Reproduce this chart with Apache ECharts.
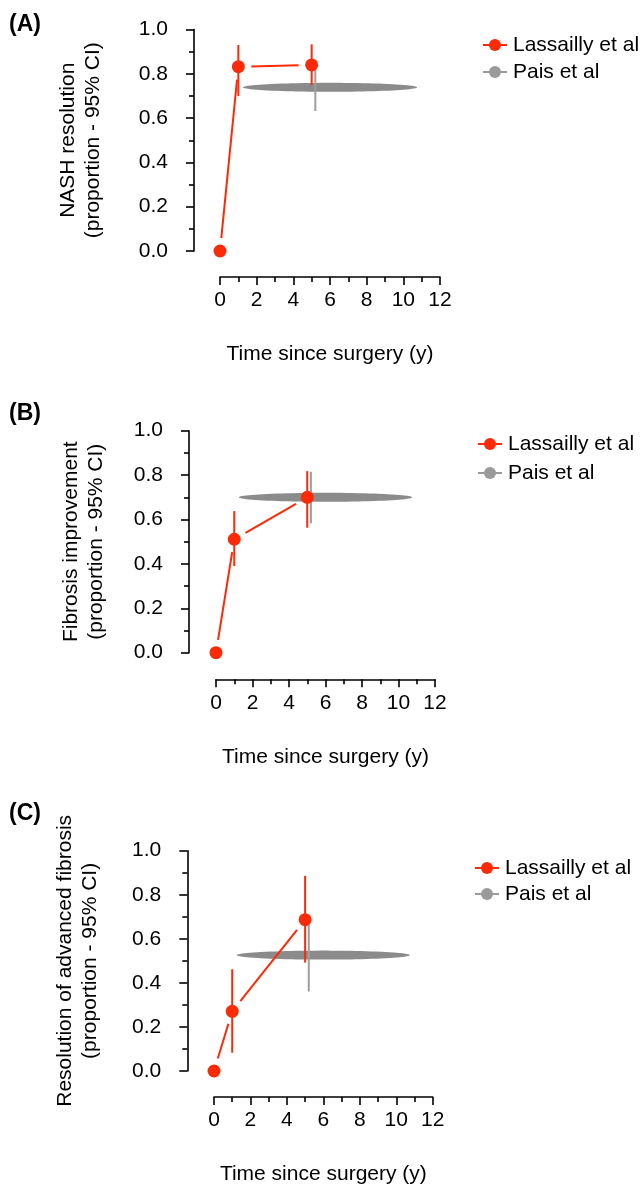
<!DOCTYPE html>
<html>
<head>
<meta charset="utf-8">
<script src="https://cdn.jsdelivr.net/npm/echarts@6/dist/echarts.min.js"></script>
<style>
html,body{margin:0;padding:0;background:#fff;}
#chart{width:643px;height:1186px;}
</style>
</head>
<body>
<div id="chart"></div>
<script>
// ---------- data ----------
const panelLabels = ['(A)', '(B)', '(C)'];
const yTitles = [
  'NASH resolution\n(proportion - 95% CI)',
  'Fibrosis improvement\n(proportion - 95% CI)',
  'Resolution of advanced fibrosis\n(proportion - 95% CI)'
];
const xTitle = 'Time since surgery (y)';
const seriesNames = ['Lassailly et al', 'Pais et al'];

// Lassailly et al: time points and proportions with 95% CI
const lassaillyTime = [0, 1, 5];
const lassaillyA = [0, 0.832, 0.840];
const lassaillyA_low = [null, 0.700, 0.750];
const lassaillyA_high = [null, 0.930, 0.933];
const lassaillyB = [0, 0.511, 0.700];
const lassaillyB_low = [null, 0.390, 0.563];
const lassaillyB_high = [null, 0.638, 0.818];
const lassaillyC = [0, 0.271, 0.687];
const lassaillyC_low = [null, 0.083, 0.492];
const lassaillyC_high = [null, 0.462, 0.886];

// Pais et al: mean time, time range, proportion with 95% CI
const paisTime = 5.2;
const paisTimeRange = [1.25, 10.75];
const paisValue = [0.739, 0.700, 0.526];
const paisLow = [0.632, 0.583, 0.361];
const paisHigh = [0.817, 0.815, 0.665];

const xMin = 0, xMax = 12, xInterval = 2;
const yMin = 0, yMax = 1, yInterval = 0.2;

// ---------- layout / style ----------
const RED = '#fb2a08';
const GRAY_FILL = '#8b8b8b';
const GRAY_LINE = '#9e9e9e';
const FONT = "'Liberation Sans', Arial, Helvetica, sans-serif";
const FS = 21;

const grids = [
  {left: 220, top: 29.5, width: 220, height: 221.5},
  {left: 216, top: 430.7, width: 219, height: 222},
  {left: 214, top: 850.7, width: 218.7, height: 221.6}
];
const yOffsets = [26, 27, 26.7];
const xOffsets = [26, 26.6, 26];
const yNameGap = [88, 80, 85];
const legendPos = [{left: 482, top: 34.5, gap: 6}, {left: 477, top: 433.5, gap: 8}, {left: 474, top: 857.5, gap: 5}];
const labelTop = [13, 402, 802];

const lassVals = [lassaillyA, lassaillyB, lassaillyC];
const lassLow = [lassaillyA_low, lassaillyB_low, lassaillyC_low];
const lassHigh = [lassaillyA_high, lassaillyB_high, lassaillyC_high];

const axisLineStyle = {color: '#000', width: 1.6};

const option = {
  animation: false,
  backgroundColor: '#fff',
  textStyle: {fontFamily: FONT},
  title: panelLabels.map((t, i) => ({
    text: t, left: 9, top: labelTop[i], padding: 0,
    textStyle: {fontFamily: FONT, fontSize: 23, fontWeight: 'bold', color: '#000'}
  })),
  legend: grids.map((g, i) => ({
    data: seriesNames,
    orient: 'vertical',
    left: legendPos[i].left, top: legendPos[i].top,
    padding: 0,
    itemWidth: 24, itemHeight: 15, itemGap: legendPos[i].gap,
    selectedMode: false,
    textStyle: {fontFamily: FONT, fontSize: FS, lineHeight: 21, color: '#000', padding: [0, 0, 0, 1]},
    lineStyle: {width: 2}
  })),
  grid: grids.map(g => ({left: g.left, top: g.top, width: g.width, height: g.height, containLabel: false})),
  xAxis: grids.map((g, i) => ({
    type: 'value', gridIndex: i, min: xMin, max: xMax, interval: xInterval,
    offset: xOffsets[i],
    axisLine: {show: true, onZero: false, lineStyle: axisLineStyle},
    axisTick: {show: true, length: 8, lineStyle: axisLineStyle},
    minorTick: {show: true, splitNumber: 2, length: 5, lineStyle: axisLineStyle},
    splitLine: {show: false},
    axisLabel: {fontFamily: FONT, fontSize: FS, color: '#000', margin: 13},
    name: xTitle, nameLocation: 'middle', nameGap: 67, nameMoveOverlap: false,
    nameTextStyle: {fontFamily: FONT, fontSize: FS, color: '#000'}
  })),
  yAxis: grids.map((g, i) => ({
    type: 'value', gridIndex: i, min: yMin, max: yMax, interval: yInterval,
    offset: yOffsets[i],
    axisLine: {show: true, onZero: false, lineStyle: axisLineStyle},
    axisTick: {show: true, length: 8, lineStyle: axisLineStyle},
    minorTick: {show: true, splitNumber: 2, length: 5, lineStyle: axisLineStyle},
    splitLine: {show: false},
    axisLabel: {fontFamily: FONT, fontSize: FS, color: '#000', margin: 26,
      formatter: v => v.toFixed(1)},
    name: yTitles[i], nameLocation: 'middle', nameGap: yNameGap[i], nameRotate: 90,
    nameMoveOverlap: false,
    nameTextStyle: {fontFamily: FONT, fontSize: FS, color: '#000', lineHeight: 25, align: 'center'}
  })),
  series: []
};

function vline(params, api, color) {
  const p1 = api.coord([api.value(0), api.value(1)]);
  const p2 = api.coord([api.value(0), api.value(2)]);
  return {type: 'line', shape: {x1: p1[0], y1: p1[1], x2: p2[0], y2: p2[1]},
    style: {stroke: color, lineWidth: 2}};
}

for (let i = 0; i < 3; i++) {
  // legend proxies
  option.series.push({
    name: seriesNames[0], type: 'line', xAxisIndex: i, yAxisIndex: i,
    data: [[lassaillyTime[0], lassVals[i][0]]], symbol: 'none',
    lineStyle: {color: RED, width: 2}, itemStyle: {color: RED, opacity: 1}, silent: true
  });
  option.series.push({
    name: seriesNames[1], type: 'line', xAxisIndex: i, yAxisIndex: i,
    data: [[paisTime, paisValue[i]]], symbol: 'none',
    lineStyle: {color: '#9a9a9a', width: 2}, itemStyle: {color: '#9a9a9a', opacity: 1}, silent: true
  });
  // Pais time-range ellipse
  option.series.push({
    name: seriesNames[1], type: 'custom', xAxisIndex: i, yAxisIndex: i, silent: true,
    data: [[paisTimeRange[0], paisTimeRange[1], paisValue[i]]],
    renderItem: (params, api) => {
      const c1 = api.coord([api.value(0), api.value(2)]);
      const c2 = api.coord([api.value(1), api.value(2)]);
      const cx = (c1[0] + c2[0]) / 2, cy = c1[1];
      const rx = (c2[0] - c1[0]) / 2, ry = 4.5;
      const pts = [];
      for (let k = 0; k < 90; k++) {
        const a = k / 90 * Math.PI * 2;
        pts.push([cx + rx * Math.cos(a), cy + ry * Math.sin(a)]);
      }
      return {type: 'polygon', shape: {points: pts}, style: {fill: GRAY_FILL}};
    }
  });
  // Pais CI
  option.series.push({
    name: seriesNames[1], type: 'custom', xAxisIndex: i, yAxisIndex: i, silent: true,
    data: [[paisTime, paisLow[i], paisHigh[i]]],
    renderItem: (p, api) => vline(p, api, GRAY_LINE)
  });
  // Lassailly connecting segments (with gaps at points)
  const segs = [];
  for (let k = 0; k < lassaillyTime.length - 1; k++) {
    segs.push([lassaillyTime[k], lassVals[i][k], lassaillyTime[k + 1], lassVals[i][k + 1]]);
  }
  option.series.push({
    name: seriesNames[0], type: 'custom', xAxisIndex: i, yAxisIndex: i, silent: true,
    data: segs,
    renderItem: (params, api) => {
      const p1 = api.coord([api.value(0), api.value(1)]);
      const p2 = api.coord([api.value(2), api.value(3)]);
      const dx = p2[0] - p1[0], dy = p2[1] - p1[1];
      const d = Math.sqrt(dx * dx + dy * dy);
      const gap = 13;
      if (d <= 2 * gap) return null;
      const ux = dx / d, uy = dy / d;
      return {type: 'line', shape: {
        x1: p1[0] + ux * gap, y1: p1[1] + uy * gap,
        x2: p2[0] - ux * gap, y2: p2[1] - uy * gap},
        style: {stroke: RED, lineWidth: 2}};
    }
  });
  // Lassailly CI
  const ci = [];
  for (let k = 0; k < lassaillyTime.length; k++) {
    if (lassLow[i][k] != null) ci.push([lassaillyTime[k], lassLow[i][k], lassHigh[i][k]]);
  }
  option.series.push({
    name: seriesNames[0], type: 'custom', xAxisIndex: i, yAxisIndex: i, silent: true,
    data: ci,
    renderItem: (p, api) => vline(p, api, RED)
  });
  // Lassailly points
  option.series.push({
    name: seriesNames[0], type: 'scatter', xAxisIndex: i, yAxisIndex: i, silent: true,
    data: lassaillyTime.map((t, k) => [t, lassVals[i][k]]),
    symbol: 'circle', symbolSize: 13, itemStyle: {color: RED, opacity: 1}
  });
}

const chart = echarts.init(document.getElementById('chart'), null, {renderer: 'canvas'});
chart.setOption(option);
</script>
</body>
</html>
